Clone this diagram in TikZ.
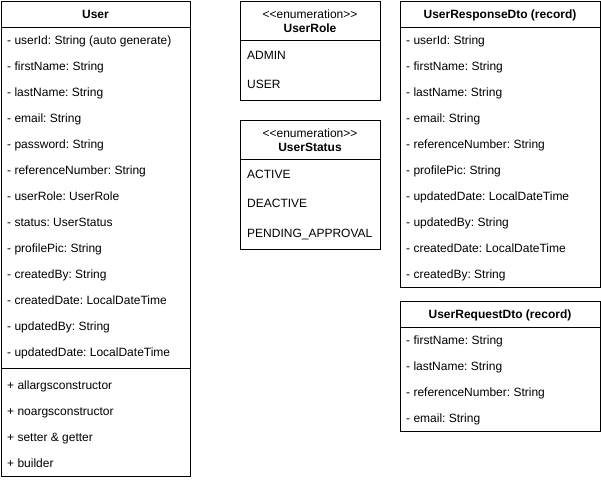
\documentclass[tikz,border=0pt]{standalone}
\usepackage{fontspec}
\setmainfont{Liberation Sans}
\usetikzlibrary{positioning}
\newcommand{\umlfont}{\fontsize{12pt}{14pt}\selectfont}
\frenchspacing

\begin{document}
\begin{tikzpicture}[x=1pt, y=-1pt,
    every node/.style={font=\umlfont},
    box/.style={draw, line width=1pt, rectangle, outer sep=0pt, inner sep=0pt, minimum width=#1},
    head/.style={box=#1, font=\umlfont\bfseries, text height=11.5pt, text depth=3pt},
    item/.style={anchor=base west, inner sep=0pt},
    stereo/.style={anchor=base, inner sep=0pt}]

    \useasboundingbox (0,0) rectangle (601,480);

    % User class
    \node[head=189pt, minimum height=26pt, anchor=north west] (user) at (1,1) {User};
    \node[box=189pt, minimum height=341pt, below=0pt of user] (userattr) {}; % fields
    \node[box=189pt, minimum height=108pt, below=0pt of userattr] (usermeth) {}; % methods
    \node[item] (u1) at ([shift={(6,17)}]userattr.north west) {- userId: String (auto generate)};
    \node[item] (u2) at ([yshift=-26pt]u1.base west) {- firstName: String};
    \node[item] (u3) at ([yshift=-26pt]u2.base west) {- lastName: String};
    \node[item] (u4) at ([yshift=-26pt]u3.base west) {- email: String};
    \node[item] (u5) at ([yshift=-26pt]u4.base west) {- password: String};
    \node[item] (u6) at ([yshift=-26pt]u5.base west) {- referenceNumber: String};
    \node[item] (u7) at ([yshift=-26pt]u6.base west) {- userRole: UserRole};
    \node[item] (u8) at ([yshift=-26pt]u7.base west) {- status: UserStatus};
    \node[item] (u9) at ([yshift=-26pt]u8.base west) {- profilePic: String};
    \node[item] (u10) at ([yshift=-26pt]u9.base west) {- createdBy: String};
    \node[item] (u11) at ([yshift=-26pt]u10.base west) {- createdDate: LocalDateTime};
    \node[item] (u12) at ([yshift=-26pt]u11.base west) {- updatedBy: String};
    \node[item] (u13) at ([yshift=-26pt]u12.base west) {- updatedDate: LocalDateTime};
    \node[item] (m1) at ([shift={(6,21)}]usermeth.north west) {+ allargsconstructor};
    \node[item] (m2) at ([yshift=-26pt]m1.base west) {+ noargsconstructor};
    \node[item] (m3) at ([yshift=-26pt]m2.base west) {+ setter \& getter};
    \node[item] (m4) at ([yshift=-26pt]m3.base west) {+ builder};

    % UserRole enumeration
    \node[box=140pt, minimum height=39pt, anchor=north west] (role) at (240,1) {};
    \node[stereo] (rolest) at ([yshift=-17.5pt]role.north) {<{}<enumeration>{}>};
    \node[stereo, font=\umlfont\bfseries] (rolename) at ([yshift=-31pt]role.north) {UserRole};
    \node[box=140pt, minimum height=60pt, below=0pt of role] (rolebody) {};
    \node[item] (r1) at ([shift={(7,19)}]rolebody.north west) {ADMIN};
    \node[item] (r2) at ([yshift=-29.5pt]r1.base west) {USER};

    % UserStatus enumeration
    \node[box=140pt, minimum height=39pt, below=20pt of rolebody] (status) {};
    \node[stereo] (statusst) at ([yshift=-17.5pt]status.north) {<{}<enumeration>{}>};
    \node[stereo, font=\umlfont\bfseries] (statusname) at ([yshift=-31pt]status.north) {UserStatus};
    \node[box=140pt, minimum height=90pt, below=0pt of status] (statusbody) {};
    \node[item] (s1) at ([shift={(7,19)}]statusbody.north west) {ACTIVE};
    \node[item] (s2) at ([yshift=-29.5pt]s1.base west) {DEACTIVE};
    \node[item] (s3) at ([yshift=-29.5pt]s2.base west) {PENDING\_APPROVAL};

    % UserResponseDto record
    \node[head=200pt, minimum height=26pt, anchor=north west] (resp) at (400,1) {UserResponseDto (record)};
    \node[box=200pt, minimum height=260pt, below=0pt of resp] (respbody) {};
    \node[item] (p1) at ([shift={(6,17)}]respbody.north west) {- userId: String};
    \node[item] (p2) at ([yshift=-26pt]p1.base west) {- firstName: String};
    \node[item] (p3) at ([yshift=-26pt]p2.base west) {- lastName: String};
    \node[item] (p4) at ([yshift=-26pt]p3.base west) {- email: String};
    \node[item] (p5) at ([yshift=-26pt]p4.base west) {- referenceNumber: String};
    \node[item] (p6) at ([yshift=-26pt]p5.base west) {- profilePic: String};
    \node[item] (p7) at ([yshift=-26pt]p6.base west) {- updatedDate: LocalDateTime};
    \node[item] (p8) at ([yshift=-26pt]p7.base west) {- updatedBy: String};
    \node[item] (p9) at ([yshift=-26pt]p8.base west) {- createdDate: LocalDateTime};
    \node[item] (p10) at ([yshift=-26pt]p9.base west) {- createdBy: String};

    % UserRequestDto record
    \node[head=200pt, minimum height=26pt, below=14pt of respbody] (req) {UserRequestDto (record)};
    \node[box=200pt, minimum height=104pt, below=0pt of req] (reqbody) {};
    \node[item] (q1) at ([shift={(6,17)}]reqbody.north west) {- firstName: String};
    \node[item] (q2) at ([yshift=-26pt]q1.base west) {- lastName: String};
    \node[item] (q3) at ([yshift=-26pt]q2.base west) {- referenceNumber: String};
    \node[item] (q4) at ([yshift=-26pt]q3.base west) {- email: String};

\end{tikzpicture}
\end{document}
